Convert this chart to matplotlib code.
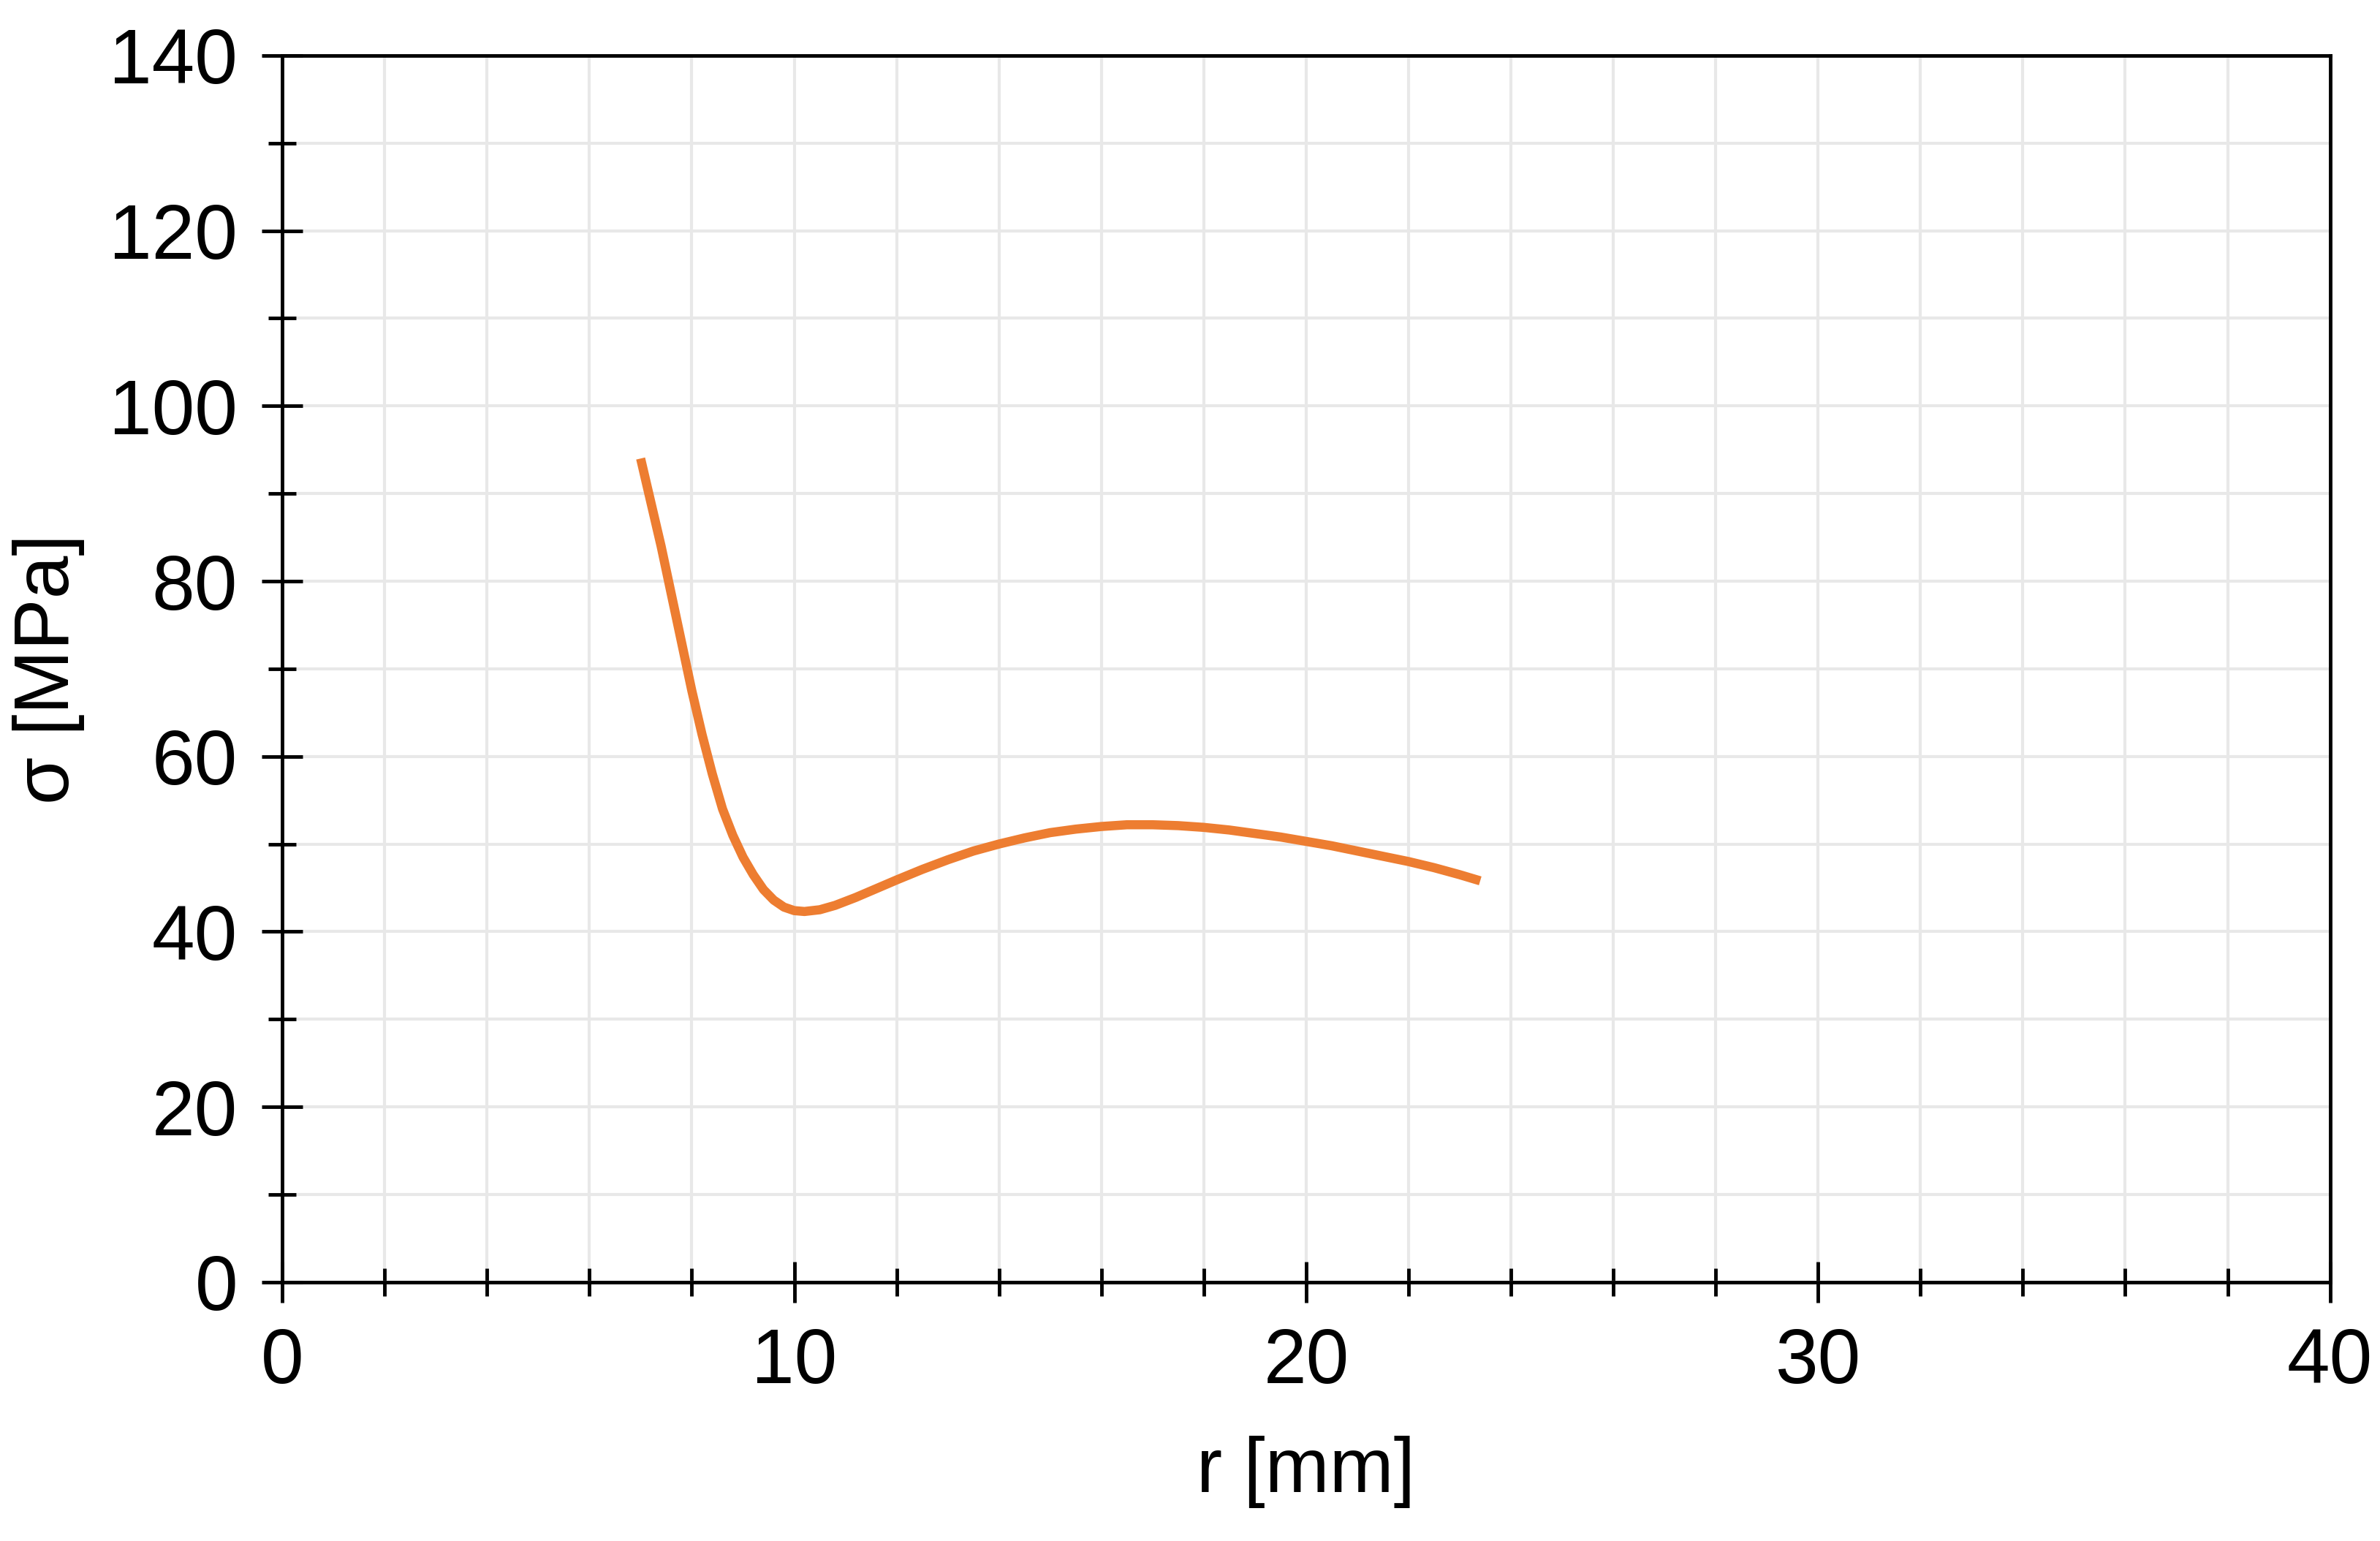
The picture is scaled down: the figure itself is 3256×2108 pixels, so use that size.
import matplotlib
matplotlib.use("Agg")
import matplotlib.pyplot as plt
from matplotlib.ticker import MultipleLocator

plt.rcParams['font.family'] = ['Liberation Sans Narrow', 'Liberation Sans', 'DejaVu Sans']

r_mm = [7.0, 7.2, 7.4, 7.6, 7.8, 8.0, 8.2, 8.4, 8.6, 8.8, 9.0, 9.2, 9.4, 9.6, 9.8, 10.0, 10.2,
        10.5, 10.8, 11.2, 11.6, 12.0, 12.5, 13.0, 13.5, 14.0, 14.5, 15.0, 15.5, 16.0, 16.5, 17.0,
        17.5, 18.0, 18.5, 19.0, 19.5, 20.0, 20.5, 21.0, 21.5, 22.0, 22.5, 23.0, 23.4]
sigma = [94, 89, 84, 78.5, 73, 67.5, 62.5, 58, 54, 51, 48.5, 46.5, 44.8, 43.6, 42.8, 42.4, 42.3,
         42.5, 43.0, 43.9, 44.9, 45.9, 47.1, 48.2, 49.2, 50.0, 50.7, 51.3, 51.7, 52.0, 52.2, 52.2,
         52.1, 51.9, 51.6, 51.2, 50.8, 50.3, 49.8, 49.2, 48.6, 48.0, 47.3, 46.5, 45.8]

fig = plt.figure(figsize=(32.56, 21.08), dpi=100)
ax = fig.add_axes([0.1186, 0.168, 0.8604, 0.796])
ax.plot(r_mm, sigma, color='#ED7D31', lw=9, solid_capstyle='butt')
ax.set_xlim(0, 40)
ax.set_ylim(0, 140)
ax.xaxis.set_major_locator(MultipleLocator(10))
ax.xaxis.set_minor_locator(MultipleLocator(2))
ax.yaxis.set_major_locator(MultipleLocator(20))
ax.yaxis.set_minor_locator(MultipleLocator(10))
ax.grid(which='both', color='#E8E8E8', lw=3)
ax.set_axisbelow(True)
for s in ax.spines.values():
    s.set_linewidth(3.5)
ax.tick_params(which='both', direction='inout', width=3.5, labelsize=76, pad=24)
ax.tick_params(which='major', length=40)
ax.tick_params(which='minor', length=28)
ax.set_xlabel('r [mm]', fontsize=76, labelpad=36)
ax.set_ylabel('σ [MPa]', fontsize=76, labelpad=24)
fig.savefig('out.png', dpi=100, facecolor='white')
